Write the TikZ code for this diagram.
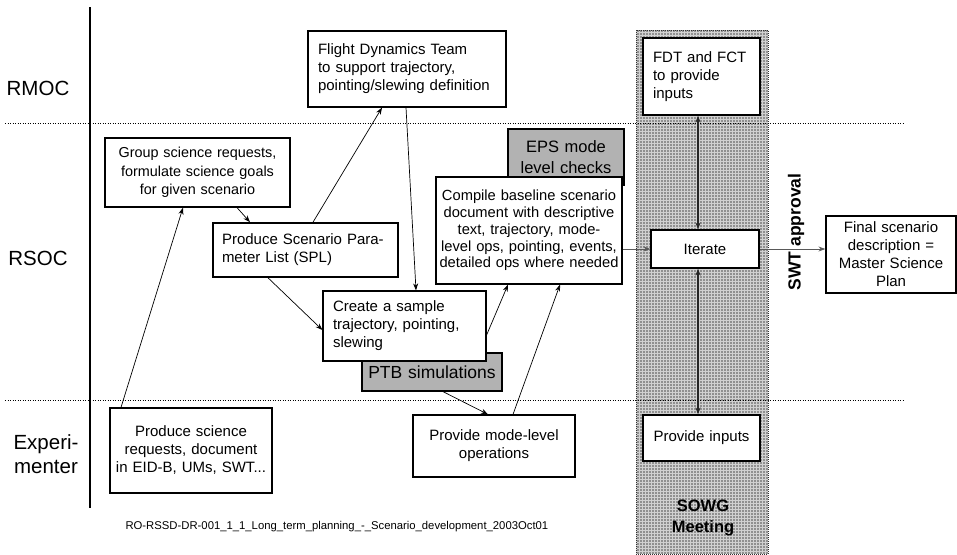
\documentclass[tikz,border=0pt]{standalone}
\usepackage{fontspec}
\setmainfont{Liberation Sans}
\usetikzlibrary{arrows.meta,calc,patterns}
% fine dot raster for the meeting band
\pgfdeclarepatternformonly{finedots}{\pgfqpoint{0pt}{0pt}}{\pgfqpoint{2.7pt}{2.7pt}}{\pgfqpoint{2.7pt}{2.7pt}}{%
  \pgfpathrectangle{\pgfqpoint{0.4pt}{0.4pt}}{\pgfqpoint{1.5pt}{1.5pt}}\pgfusepath{fill}}
\begin{document}
\begin{tikzpicture}[x=1pt,y=-1pt,
  box/.style={draw, fill=white, line width=1.2pt, inner ysep=0pt, inner xsep=8pt,
    font=\fontsize{15}{18}\selectfont},
  greybox/.style={draw, fill=black!30, line width=1.2pt, inner ysep=0pt, inner xsep=4pt,
    align=center, font=\fontsize{16.5}{21.5}\selectfont},
  lane/.style={font=\fontsize{20.5}{24}\selectfont, align=center},
  link/.style={line width=0.7pt, -{Stealth[length=7pt,width=5pt]}},
  flow/.style={line width=1pt, draw=black!65, -{Stealth[length=7pt,width=5pt]}},
  both/.style={line width=1.1pt, draw=black!85, {Stealth[length=7pt,width=5pt]}-{Stealth[length=7pt,width=5pt]}},
  divider/.style={line width=1pt, dash pattern=on 1pt off 1.5pt}
]
\useasboundingbox (0,0) rectangle (957,554);

% SOWG meeting band
\fill[black!18] (636,30) rectangle (768,554);
\fill[pattern=finedots, pattern color=black!78] (636,30) rectangle (768,554);
\draw[line width=0.8pt, dash pattern=on 1pt off 1pt, black!80] (636,30) rectangle (768,554);

% lanes
\draw[line width=1.5pt] (90,7) -- (90,508);
\draw[divider] (5,123) -- (904,123);
\draw[divider] (5,400) -- (904,400);
\node[lane] (rmoc) at (38,88) {RMOC};
\node[lane] (rsoc) at (38,258) {RSOC};
\node[lane] (exp) at (46,454) {Experi-\\menter};

% RMOC lane
\node[box, text width=178pt, minimum height=76pt, align=left, inner xsep=10pt] (fdt) at (407,69)
  {Flight Dynamics Team\\to support trajectory,\\pointing/slewing definition};
\node[box, text width=97pt, minimum height=77pt, align=left, inner xsep=10pt] (fct) at (701.5,76.5)
  {FDT and FCT\\to provide\\inputs};

% RSOC lane
\node[box, text width=169pt, minimum height=69pt, align=center, font=\fontsize{14.4}{18.5}\selectfont] (grp) at (197.5,172.5)
  {Group science requests,\\formulate science goals\\for given scenario};
\node[box, line width=1.6pt, text width=167pt, minimum height=54pt, align=left, inner xsep=9pt] (spl) at (305.5,250)
  {Produce Scenario Para-\\meter List (SPL)};
\node[greybox, text width=108pt, minimum height=56pt] (eps) at (566,157) {EPS mode\\level checks};
\node[box, text width=182pt, minimum height=107pt, align=center, inner xsep=2pt,
  font=\fontsize{14.7}{16.7}\selectfont] (cmp) at (529,230.5)
  {Compile baseline scenario\\document with descriptive\\text, trajectory, mode-\\level ops, pointing, events,\\detailed ops where needed};
\node[greybox, text width=132pt, minimum height=38pt, font=\fontsize{17.5}{21}\selectfont] (ptb) at (432,372) {PTB simulations};
\node[box, text width=143pt, minimum height=70pt, align=left, inner xsep=10pt] (smp) at (404.5,326)
  {Create a sample\\trajectory, pointing,\\slewing};
\node[box, text width=92pt, minimum height=38pt, align=center] (itr) at (705,249) {Iterate};
\node[box, text width=122pt, minimum height=77pt, align=center, inner xsep=4pt] (fin) at (891,254.5)
  {Final scenario\\description =\\Master Science\\Plan};

% Experimenter lane
\node[box, text width=156pt, minimum height=85pt, align=center, inner xsep=3pt] (psr) at (191,450.5)
  {Produce science\\requests, document\\in EID-B, UMs, SWT...};
\node[box, text width=146pt, minimum height=62pt, align=center] (mlo) at (494,446)
  {Provide mode-level\\operations};
\node[box, text width=109pt, minimum height=46pt, align=center, inner xsep=4pt] (pin) at (701.5,438)
  {Provide inputs};

% labels
\node[rotate=90, font=\bfseries\fontsize{17.5}{20}\selectfont] (swt) at (796,232) {SWT approval};
\node[font=\bfseries\fontsize{16.5}{21}\selectfont, align=center] (sowg) at (703,518) {SOWG\\Meeting};
\node[font=\fontsize{11.3}{13}\selectfont, anchor=west] (ref) at (122,527)
  {RO-RSSD-DR-001\_1\_1\_Long\_term\_planning\_-\_Scenario\_development\_2003Oct01};

% connectors
\draw[link] ([xshift=-70pt]psr.north) -- ([xshift=-14.5pt]grp.south);
\draw[link] ([xshift=39.5pt]grp.south) -- ([xshift=-55.5pt]spl.north);
\draw[link] ([xshift=7.5pt]spl.north) -- ([xshift=-25pt]fdt.south);
\draw[link] ([xshift=-1pt]fdt.south) -- ([xshift=11.5pt]smp.north);
\draw[link] ([xshift=-37.5pt]spl.south) -- ([yshift=-4pt]smp.west);
\draw[link] ([yshift=-9pt]smp.east) -- ([xshift=-21pt]cmp.south);
\draw[link] ([xshift=19pt]mlo.north) -- ([xshift=31pt]cmp.south);
\draw[link] ([xshift=11pt]ptb.south) -- ([xshift=-6pt]mlo.north);
\draw[flow] (itr.west -| cmp.east) -- (itr.west);
\draw[flow] (itr.east) -- (itr.east -| fin.west);
\draw[both] ([xshift=-3.5pt]fct.south) -- ([xshift=-7pt]itr.north);
\draw[both] ([xshift=-7pt]itr.south) -- ([xshift=-3.5pt]pin.north);
\end{tikzpicture}
\end{document}
